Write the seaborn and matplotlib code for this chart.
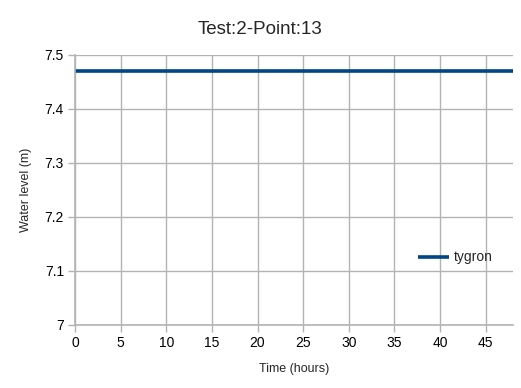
import matplotlib
matplotlib.use("Agg")
import matplotlib.pyplot as plt
import seaborn as sns
import pandas as pd

hours = [0, 1, 2, 3, 4, 5, 6, 7, 8, 9, 10, 11, 12, 13, 14, 15, 16, 17, 18, 19, 20,
         21, 22, 23, 24, 25, 26, 27, 28, 29, 30, 31, 32, 33, 34, 35, 36, 37, 38, 39,
         40, 41, 42, 43, 44, 45, 46, 47, 48]
tygron = [7.47, 7.47, 7.47, 7.47, 7.47, 7.47, 7.47, 7.47, 7.47, 7.47, 7.47, 7.47,
          7.47, 7.47, 7.47, 7.47, 7.47, 7.47, 7.47, 7.47, 7.47, 7.47, 7.47, 7.47,
          7.47, 7.47, 7.47, 7.47, 7.47, 7.47, 7.47, 7.47, 7.47, 7.47, 7.47, 7.47,
          7.47, 7.47, 7.47, 7.47, 7.47, 7.47, 7.47, 7.47, 7.47, 7.47, 7.47, 7.47, 7.47]
x_ticks = [0, 5, 10, 15, 20, 25, 30, 35, 40, 45]
y_ticks = [7.0, 7.1, 7.2, 7.3, 7.4, 7.5]
y_labels = ["7", "7.1", "7.2", "7.3", "7.4", "7.5"]

sns.set_theme(style="white")
plt.rcParams['font.family'] = ['Liberation Sans', 'DejaVu Sans']
plt.rcParams['lines.solid_capstyle'] = 'butt'

df = pd.DataFrame({"Time (hours)": hours, "Water level (m)": tygron, "series": "tygron"})

fig = plt.figure(figsize=(5.21, 3.88), dpi=100)
ax = fig.add_axes([75 / 521, 1 - 325 / 388, 438 / 521, 270 / 388])

sns.lineplot(data=df, x="Time (hours)", y="Water level (m)", hue="series",
             palette={"tygron": "#004586"}, linewidth=2.6, ax=ax)

ax.set_xlim(0, 48)
ax.set_ylim(7.0, 7.5)
ax.set_xticks(x_ticks)
ax.set_yticks(y_ticks)
ax.set_yticklabels(y_labels)
ax.grid(True, color="#b3b3b3", linewidth=1.0)
ax.set_axisbelow(True)
for s in ["top", "right"]:
    ax.spines[s].set_visible(False)
for s in ["left", "bottom"]:
    ax.spines[s].set_color("#b3b3b3")
    ax.spines[s].set_linewidth(1.2)
ax.tick_params(axis="both", which="both", length=5, width=1, color="#b3b3b3",
               labelsize=10, labelcolor="black", pad=3, bottom=True, left=True)
ax.set_xlabel("Time (hours)", fontsize=9, labelpad=9)
ax.set_ylabel("Water level (m)", fontsize=9, labelpad=9)

leg = ax.legend(loc="center left", bbox_to_anchor=(0.755, 0.25), frameon=False,
                fontsize=10, handlelength=2.2, handletextpad=0.4)
leg.set_title(None)

fig.text(0.5, 1 - 30 / 388, "Test:2-Point:13", fontsize=13.5, ha="center", va="center")

fig.savefig("out.png", dpi=100)
